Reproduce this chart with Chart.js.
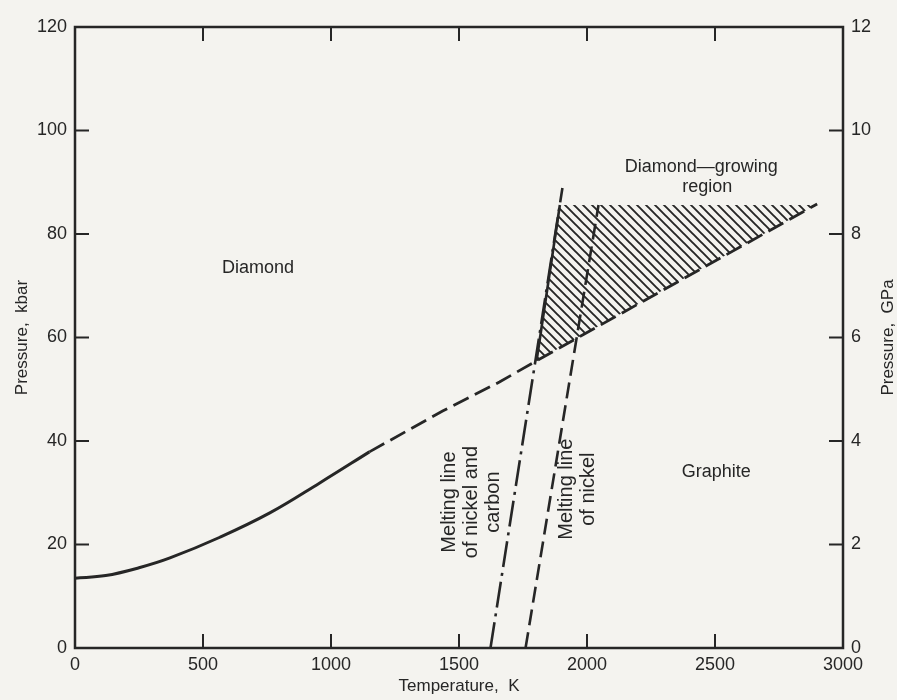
<!DOCTYPE html>
<html><head><meta charset="utf-8">
<script src="https://cdn.jsdelivr.net/npm/chart.js@4.4.0/dist/chart.umd.min.js"></script>
<style>html,body{margin:0;padding:0;background:#f4f3ef;}#wrap{width:897px;height:700px;}</style>
</head><body><div id="wrap"><canvas id="c" width="897" height="700"></canvas></div>
<script>
// ---- data ----
const xTicks = [0, 500, 1000, 1500, 2000, 2500, 3000];
const kbarTicks = [0, 20, 40, 60, 80, 100, 120];
const gpaTicks = [0, 2, 4, 6, 8, 10, 12];

const boundarySolidT = [0, 120, 250, 371, 566, 761, 956, 1150];
const boundarySolidP = [13.5, 14.0, 15.5, 17.4, 21.4, 26.1, 31.9, 37.9];
const boundaryDashedT = [1150, 1436, 1658, 1803, 2899];
const boundaryDashedP = [37.9, 45.8, 51.4, 55.5, 85.8];

const niCarbonMeltT = [1623, 1904];
const niCarbonMeltP = [0, 88.9];
const niMeltT = [1760, 2045];
const niMeltP = [0, 85.6];

const regionEdgeT = [1803, 1894];
const regionEdgeP = [55.5, 85.6];
const growingRegionT = [1803, 1894, 2893];
const growingRegionP = [55.5, 85.6, 85.6];

const textLabels = ['Diamond', 'Diamond\u2014growing', 'region', 'Graphite'];
const textLabelT = [715, 2446, 2470, 2505];
const textLabelP = [73.5, 92.9, 89.1, 34.0];
const rotLabels = [['Melting line', 'of nickel and', 'carbon'], ['Melting line', 'of nickel']];
const rotLabelT = [1549, 1961];
const rotLabelP = [28.2, 30.7];

const INK = '#262626';
const FONT = "'Liberation Sans', Arial, sans-serif";

const pts = (xs, ys) => xs.map((x, i) => ({x: x, y: ys[i]}));

function hatchPattern() {
  const s = 9;
  const c = document.createElement('canvas');
  c.width = s; c.height = s;
  const g = c.getContext('2d');
  g.strokeStyle = INK; g.lineWidth = 1.9;
  g.beginPath();
  for (const k of [-s, 0, s]) { g.moveTo(-1, -1 + k); g.lineTo(s + 1, s + 1 + k); }
  g.stroke();
  return g.createPattern(c, 'repeat');
}

const decor = {
  id: 'decor',
  afterDatasetsDraw(chart) {
    const {ctx, chartArea: a, scales} = chart;
    ctx.save();
    ctx.strokeStyle = INK;
    ctx.lineWidth = 2.5;
    ctx.strokeRect(a.left, a.top, a.right - a.left, a.bottom - a.top);
    ctx.lineWidth = 2;
    const L = 14;
    ctx.beginPath();
    scales.x.ticks.forEach(t => {
      const p = scales.x.getPixelForValue(t.value);
      if (p <= a.left + 1 || p >= a.right - 1) return;
      ctx.moveTo(p, a.bottom); ctx.lineTo(p, a.bottom - L);
      ctx.moveTo(p, a.top); ctx.lineTo(p, a.top + L);
    });
    scales.y.ticks.forEach(t => {
      const p = scales.y.getPixelForValue(t.value);
      if (p <= a.top + 1 || p >= a.bottom - 1) return;
      ctx.moveTo(a.left, p); ctx.lineTo(a.left + L, p);
    });
    scales.y2.ticks.forEach(t => {
      const p = scales.y2.getPixelForValue(t.value);
      if (p <= a.top + 1 || p >= a.bottom - 1) return;
      ctx.moveTo(a.right, p); ctx.lineTo(a.right - L, p);
    });
    ctx.stroke();

    ctx.fillStyle = INK;
    ctx.font = '18px ' + FONT;
    ctx.textAlign = 'center';
    ctx.textBaseline = 'middle';
    textLabels.forEach((txt, i) => {
      ctx.fillText(txt, scales.x.getPixelForValue(textLabelT[i]), scales.y.getPixelForValue(textLabelP[i]));
    });
    ctx.font = '20px ' + FONT;
    rotLabels.forEach((lines, i) => {
      const cx = scales.x.getPixelForValue(rotLabelT[i]);
      const cy = scales.y.getPixelForValue(rotLabelP[i]);
      const lh = 22;
      ctx.save();
      ctx.translate(cx, cy);
      ctx.rotate(-Math.PI / 2);
      lines.forEach((ln, j) => {
        ctx.fillText(ln, 0, (j - (lines.length - 1) / 2) * lh);
      });
      ctx.restore();
    });
    // right axis title (reads bottom-to-top like the left one)
    ctx.save();
    ctx.font = '17px ' + FONT;
    ctx.translate(scales.y2.right - 9, (a.top + a.bottom) / 2);
    ctx.rotate(-Math.PI / 2);
    ctx.fillText('Pressure,  GPa', 0, 0);
    ctx.restore();
    ctx.restore();
  }
};

const tickFont = {family: FONT, size: 18};
const titleFont = {family: FONT, size: 17};
const plain = v => String(v);

new Chart(document.getElementById('c'), {
  type: 'scatter',
  data: {
    datasets: [
      {data: pts(boundarySolidT, boundarySolidP), showLine: true, borderColor: INK, borderWidth: 3, tension: 0.4},
      {data: pts(boundaryDashedT, boundaryDashedP), showLine: true, borderColor: INK, borderWidth: 2.8, borderDash: [17, 7]},
      {data: pts(regionEdgeT, regionEdgeP), showLine: true, borderColor: INK, borderWidth: 2.6},
      {data: pts(niCarbonMeltT, niCarbonMeltP), showLine: true, borderColor: INK, borderWidth: 2.6, borderDash: [26, 6, 3, 6]},
      {data: pts(niMeltT, niMeltP), showLine: true, borderColor: INK, borderWidth: 2.6, borderDash: [16, 7]},
      {data: pts(growingRegionT, growingRegionP), showLine: true, borderWidth: 0, borderColor: 'rgba(0,0,0,0)', backgroundColor: hatchPattern(), fill: 'shape'}
    ]
  },
  options: {
    responsive: false,
    animation: false,
    layout: {padding: {top: 27, left: 0, right: 0, bottom: 0}},
    elements: {point: {radius: 0, hoverRadius: 0}},
    plugins: {legend: {display: false}, tooltip: {enabled: false}},
    scales: {
      x: {
        type: 'linear', position: 'bottom', min: 0, max: 3000,
        afterBuildTicks: s => { s.ticks = xTicks.map(v => ({value: v})); },
        grid: {display: false, drawTicks: false}, border: {display: false},
        ticks: {font: tickFont, color: INK, padding: 6, maxRotation: 0, callback: plain},
        title: {display: true, text: 'Temperature,  K', font: titleFont, color: INK, padding: {top: 0, bottom: 3}},
        afterFit: s => { s.height = 52; }
      },
      y: {
        type: 'linear', position: 'left', min: 0, max: 120,
        afterBuildTicks: s => { s.ticks = kbarTicks.map(v => ({value: v})); },
        grid: {display: false, drawTicks: false}, border: {display: false},
        ticks: {font: tickFont, color: INK, padding: 8, callback: plain},
        title: {display: true, text: 'Pressure,  kbar', font: titleFont, color: INK, padding: {top: 12, bottom: 0}},
        afterFit: s => { s.width = 75; }
      },
      y2: {
        type: 'linear', position: 'right', min: 0, max: 12,
        afterBuildTicks: s => { s.ticks = gpaTicks.map(v => ({value: v})); },
        grid: {display: false, drawTicks: false}, border: {display: false},
        ticks: {font: tickFont, color: INK, padding: 8, callback: plain},
        afterFit: s => { s.width = 54; }
      }
    }
  },
  plugins: [decor]
});
</script>
</body></html>
